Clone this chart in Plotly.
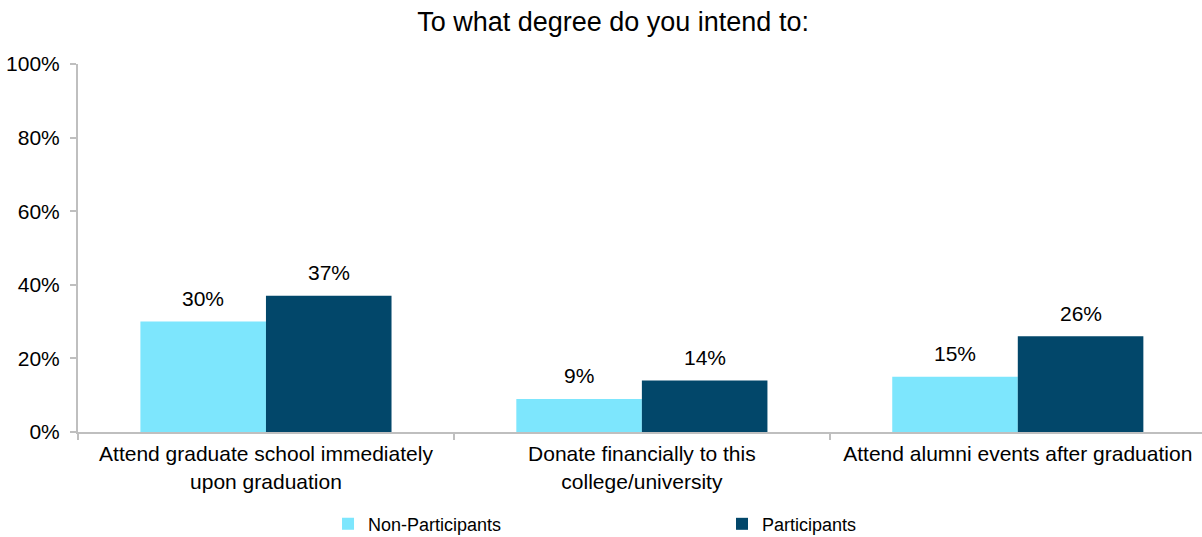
import plotly.graph_objects as go

categories = ["Attend graduate school immediately<br>upon graduation",
              "Donate financially to this<br>college/university",
              "Attend alumni events after graduation"]
non_participants = [0.30, 0.09, 0.15]
participants = [0.37, 0.14, 0.26]
series_names = ["Non-Participants", "Participants"]
colors = ["#7DE6FD", "#02476A"]
y_ticks = [0, 0.2, 0.4, 0.6, 0.8, 1.0]

FONT = "Liberation Sans, Arial, sans-serif"

fig = go.Figure()
for name, vals, col in zip(series_names, [non_participants, participants], colors):
    fig.add_trace(go.Bar(x=categories, y=vals, name=name, marker_color=col,
                         marker_line_width=0))

annotations = []
for vals, shift in [(non_participants, -63), (participants, 63)]:
    for c, v in zip(categories, vals):
        annotations.append(dict(x=c, y=v, xref="x", yref="y", text=f"{round(v*100)}%",
                                showarrow=False, xshift=shift, yshift=23,
                                font=dict(family=FONT, size=21, color="#000")))

fig.update_layout(
    width=1202, height=537,
    margin=dict(l=78, r=0, t=64, b=105),
    paper_bgcolor="white", plot_bgcolor="white",
    barmode="group", bargap=0.332, bargroupgap=0,
    title=dict(text="To what degree do you intend to:", x=0.51, xanchor="center",
               y=0.96, yanchor="middle",
               font=dict(family=FONT, size=27, color="#000")),
    font=dict(family=FONT, size=21, color="#000"),
    annotations=annotations,
    showlegend=True,
    legend=dict(orientation="h", xref="container", x=0.2729, xanchor="left",
                yref="container", y=0.024, yanchor="middle",
                entrywidth=349, entrywidthmode="pixels",
                font=dict(family=FONT, size=18, color="#000"),
                bgcolor="rgba(0,0,0,0)"),
)
fig.update_xaxes(type="category", range=[-0.5, 2.49], showline=True, linecolor="#BFBFBF",
                 linewidth=2, ticks="outside", tickson="boundaries", ticklen=6,
                 tickcolor="#BFBFBF", tickwidth=2, showgrid=False, automargin=False,
                 ticklabelstandoff=2,
                 tickfont=dict(family=FONT, size=21, color="#000"))
fig.update_yaxes(range=[0, 1.0], tickvals=y_ticks, tickformat=".0%", showline=True,
                 linecolor="#BFBFBF", linewidth=2, ticks="outside", ticklen=6,
                 tickcolor="#BFBFBF", tickwidth=2, showgrid=False, zeroline=False,
                 automargin=False, ticklabelstandoff=6,
                 tickfont=dict(family=FONT, size=21, color="#000"))

fig.write_html("out.html")
